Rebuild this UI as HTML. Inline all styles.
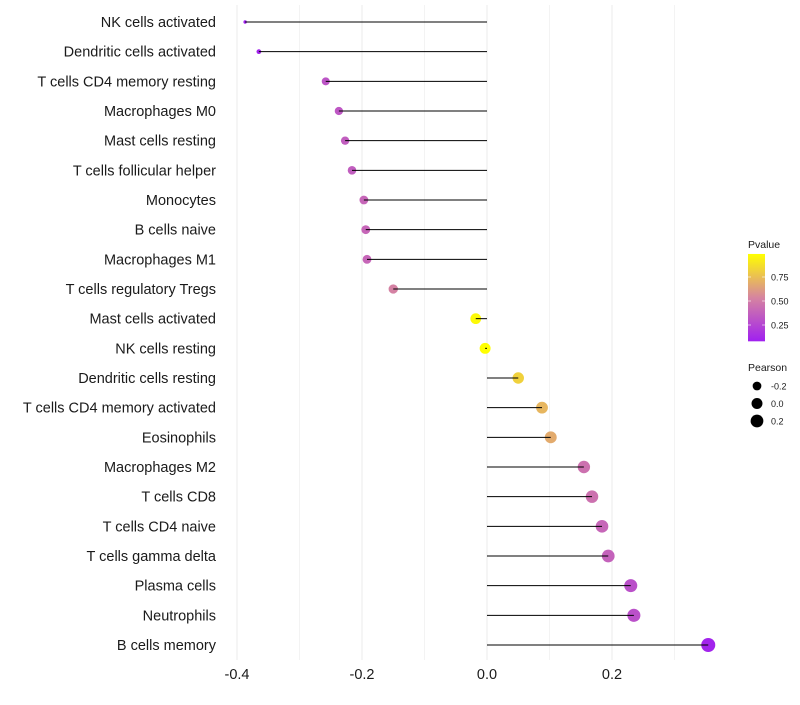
<!DOCTYPE html>
<html><head><meta charset="utf-8"><style>
body{margin:0;background:#fff;font-family:"Liberation Sans",sans-serif}
svg text{font-family:"Liberation Sans",sans-serif}
</style></head><body>
<svg id="c" width="800" height="700"></svg>
<script>
const categories=["NK cells activated","Dendritic cells activated","T cells CD4 memory resting","Macrophages M0","Mast cells resting","T cells follicular helper","Monocytes","B cells naive","Macrophages M1","T cells regulatory  Tregs ","Mast cells activated","NK cells resting","Dendritic cells resting","T cells CD4 memory activated","Eosinophils","Macrophages M2","T cells CD8","T cells CD4 naive","T cells gamma delta","Plasma cells","Neutrophils","B cells memory"];
const pearson=[-0.387,-0.365,-0.258,-0.237,-0.227,-0.216,-0.197,-0.194,-0.192,-0.150,-0.018,-0.003,0.050,0.088,0.102,0.155,0.168,0.184,0.194,0.230,0.235,0.354];
const pvalues=[0.08,0.1,0.32,0.33,0.36,0.36,0.40,0.40,0.40,0.52,0.97,0.99,0.82,0.72,0.68,0.45,0.45,0.40,0.38,0.3,0.3,0.1];
const xTicks=[-0.4,-0.2,0.0,0.2];
const xTickLabels=["-0.4","-0.2","0.0","0.2"];
const minorTicks=[-0.3,-0.1,0.1,0.3];
const pTicks=[0.25,0.5,0.75];
const pTickLabels=["0.25","0.50","0.75"];
const sizeVals=[-0.2,0.0,0.2];
const sizeLabels=["-0.2","0.0","0.2"];

const NS="http://www.w3.org/2000/svg";
const svg=document.getElementById('c');
function el(t,a,p){const e=document.createElementNS(NS,t);for(const k in a)e.setAttribute(k,a[k]);(p||svg).appendChild(e);return e;}
const x=v=>487+v*625;
const y=i=>22+i*(623/21);
const r=v=>{let a=30+54*v;if(v<-0.3)a-=71*(-0.3-v);return Math.sqrt(Math.max(2.5,a));};
const stops=[[0,[160,32,240]],[0.5,[214,132,160]],[1,[255,255,0]]];
const pmin=0.08,pmax=0.99;
function col(p){let t=(p-pmin)/(pmax-pmin);t=Math.max(0,Math.min(1,t));let a=stops[0],b=stops[1];if(t>0.5){a=stops[1];b=stops[2];}const u=(t-a[0])/(b[0]-a[0]);const c=a[1].map((v,k)=>Math.round(v+(b[1][k]-v)*u));return `rgb(${c})`;}

const grid=el('g',{});


xTicks.concat(minorTicks).forEach(v=>{el('line',{x1:x(v),x2:x(v),y1:5,y2:660,stroke:'#ebebeb','stroke-width':xTicks.includes(v)?1:0.6},grid);});

const ylab=el('g',{});


categories.forEach((c,i)=>{const t=el('text',{x:216,y:y(i)+5,'text-anchor':'end','font-size':14.5,fill:'#1a1a1a'},ylab);t.textContent=c;});

const xl=el('g',{});


xTicks.forEach((v,i)=>{const t=el('text',{x:x(v),y:679,'text-anchor':'middle','font-size':14.5,fill:'#1a1a1a'},xl);t.textContent=xTickLabels[i];});

const marks=el('g',{});


pearson.forEach((v,i)=>{
 const c=el('circle',{cx:x(v),cy:y(i),r:r(v),fill:col(pvalues[i])},marks);
 
 
 const l=el('line',{x1:x(0),x2:x(v),y1:y(i),y2:y(i),stroke:'#000','stroke-width':1},marks);
 
 
});

const leg=el('g',{});


const lt=el('text',{x:748,y:248,'font-size':10.5,fill:'#1a1a1a'},leg);lt.textContent='Pvalue';
const defs=el('defs',{});
const lg=el('linearGradient',{id:'g',x1:0,y1:1,x2:0,y2:0},defs);
for(let k=0;k<=10;k++){const p=pmin+(pmax-pmin)*k/10;el('stop',{offset:k/10,'stop-color':col(p)},lg);}
const py=p=>349-p*96;
el('rect',{x:748,y:py(pmax),width:17,height:py(pmin)-py(pmax),fill:'url(#g)'},leg);
pTicks.forEach((p,i)=>{el('line',{x1:748,x2:751,y1:py(p),y2:py(p),stroke:'#fff','stroke-width':0.6},leg);el('line',{x1:762,x2:765,y1:py(p),y2:py(p),stroke:'#fff','stroke-width':0.6},leg);const t=el('text',{x:771,y:py(p)+3.5,'font-size':9,fill:'#1a1a1a'},leg);t.textContent=pTickLabels[i];});

const sl=el('g',{});


const st=el('text',{x:748,y:371,'font-size':10.5,fill:'#1a1a1a'},sl);st.textContent='Pearson';
sizeVals.forEach((v,i)=>{const cy=386+i*17.5;el('circle',{cx:757,cy:cy,r:r(v),fill:'#000'},sl);const t=el('text',{x:771,y:cy+3.5,'font-size':9,fill:'#1a1a1a'},sl);t.textContent=sizeLabels[i];});
</script>
</body></html>
